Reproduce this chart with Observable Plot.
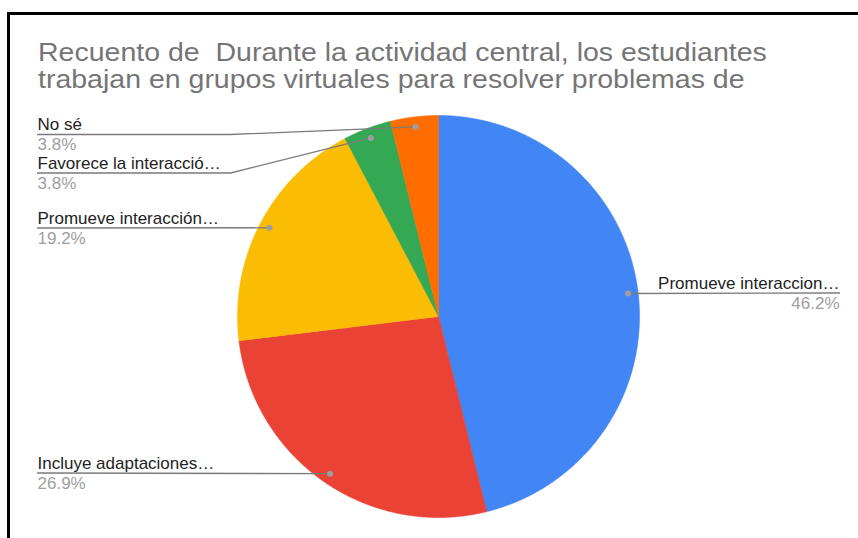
<!DOCTYPE html>
<html>
<head>
<meta charset="utf-8">
<script src="https://cdn.jsdelivr.net/npm/d3@7"></script>
<script src="https://cdn.jsdelivr.net/npm/@observablehq/plot@0.6"></script>
<style>
  html, body { margin: 0; padding: 0; background: #fff; }
  body { width: 858px; height: 538px; position: relative; overflow: hidden; font-family: "Liberation Sans", Arial, sans-serif; }
  #frame { position: absolute; left: 7px; top: 12px; width: 860px; height: 540px; border-top: 3px solid #000; border-left: 3px solid #000; box-sizing: border-box; }
  #title { position: absolute; left: 38px; top: 39px; font-size: 25px; line-height: 27px; color: #757575; white-space: pre; transform: scaleX(1.14); transform-origin: 0 0; }
  #chart { position: absolute; left: 0; top: 100px; }
</style>
</head>
<body>
<div id="frame"></div>
<div id="title">Recuento de  Durante la actividad central, los estudiantes
trabajan en grupos virtuales para resolver problemas de</div>
<div id="chart"></div>
<script>
// ---- data ----
const categories = ["Promueve interaccion…", "Incluye adaptaciones…", "Promueve interacción…", "Favorece la interacció…", "No sé"];
const counts = [12, 7, 5, 1, 1];
const colors = ["#4285F4", "#EA4335", "#FBBC04", "#34A853", "#FF6D01"];

// ---- layout (page pixels) ----
const W = 858, H = 438, TOP = 100;
const CX = 438, CY = 316, R = 201;
const labelLayout = [
  {side: "right", lineY: 292.5, endX: 839},
  {side: "left", lineY: 472.5},
  {side: "left", lineY: 227.5},
  {side: "left", lineY: 172.5, elbowX: 230},
  {side: "left", lineY: 134, elbowX: 230}
];
const LEFT_X = 37;
const toX = px => (px - CX) / R;
const toY = py => (CY - py) / R;

const total = d3.sum(counts);
const arcs = d3.pie().sort(null).value(d => d)(counts);

// slice polygons in unit-circle coordinates
const slicePts = [];
arcs.forEach((a, i) => {
  const name = categories[i];
  slicePts.push({name, x: 0, y: 0});
  const n = Math.max(4, Math.ceil((a.endAngle - a.startAngle) / 0.005));
  for (let k = 0; k <= n; k++) {
    const t = a.startAngle + (a.endAngle - a.startAngle) * k / n;
    slicePts.push({name, x: Math.sin(t), y: Math.cos(t)});
  }
  slicePts.push({name, x: 0, y: 0});
});

// anchor dots, leader lines and labels
const dots = [], leaders = [], leftLabels = [], rightLabels = [];
arcs.forEach((a, i) => {
  const m = (a.startAngle + a.endAngle) / 2;
  const dx = 0.95 * Math.sin(m), dy = 0.95 * Math.cos(m);
  const L = labelLayout[i];
  const pct = (counts[i] / total * 100).toFixed(1) + "%";
  dots.push({x: dx, y: dy});
  const ly = toY(L.lineY);
  if (L.side === "right") {
    leaders.push({id: i, x: dx, y: dy}, {id: i, x: toX(L.endX), y: ly});
    rightLabels.push({x: toX(L.endX), yName: toY(L.lineY - 4.5), yPct: toY(L.lineY + 15.5), name: categories[i], pct});
  } else {
    leaders.push({id: i, x: dx, y: dy});
    if (L.elbowX !== undefined) leaders.push({id: i, x: toX(L.elbowX), y: ly});
    leaders.push({id: i, x: toX(LEFT_X), y: ly});
    leftLabels.push({x: toX(LEFT_X), yName: toY(L.lineY - 4.5), yPct: toY(L.lineY + 15.5), name: categories[i], pct});
  }
});

const fs = 17;
const chart = Plot.plot({
  width: W, height: H,
  marginLeft: CX - R, marginRight: W - (CX + R),
  marginTop: CY - R - TOP, marginBottom: H - (CY + R - TOP),
  x: {domain: [-1, 1], axis: null},
  y: {domain: [-1, 1], axis: null},
  color: {domain: categories, range: colors},
  style: {fontFamily: "'Liberation Sans', Arial, sans-serif", overflow: "visible", background: "transparent"},
  marks: [
    Plot.line(slicePts, {x: "x", y: "y", z: "name", fill: "name", stroke: "name", strokeWidth: 0.6, curve: "linear"}),
    Plot.line(leaders, {x: "x", y: "y", z: "id", stroke: "#7a7a7a", strokeWidth: 1.3}),
    Plot.dot(dots, {x: "x", y: "y", r: 3, fill: "#9e9e9e", stroke: null}),
    Plot.text(leftLabels, {x: "x", y: "yName", text: "name", textAnchor: "start", lineAnchor: "bottom", fontSize: fs, fill: "#222222"}),
    Plot.text(leftLabels, {x: "x", y: "yPct", text: "pct", textAnchor: "start", lineAnchor: "bottom", fontSize: fs, fill: "#9e9e9e"}),
    Plot.text(rightLabels, {x: "x", y: "yName", text: "name", textAnchor: "end", lineAnchor: "bottom", fontSize: fs, fill: "#222222"}),
    Plot.text(rightLabels, {x: "x", y: "yPct", text: "pct", textAnchor: "end", lineAnchor: "bottom", fontSize: fs, fill: "#9e9e9e"})
  ]
});
document.getElementById("chart").appendChild(chart);
</script>
</body>
</html>
